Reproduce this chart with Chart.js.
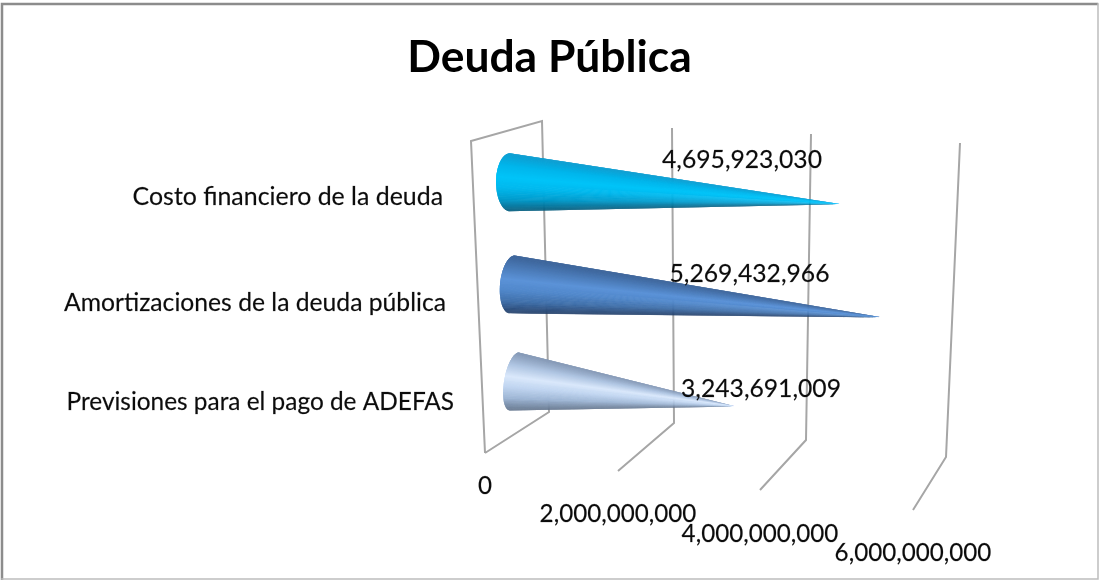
<!DOCTYPE html>
<html><head><meta charset="utf-8">
<style>html,body{margin:0;padding:0;background:#fff}#w{width:1099px;height:580px;position:relative}</style>
<script src="https://cdn.jsdelivr.net/npm/chart.js@4"></script>
</head><body><div id="w"><canvas id="c"></canvas></div>
<script>
const categories = ["Costo financiero de la deuda", "Amortizaciones de la deuda pública", "Previsiones para el pago de ADEFAS"];
const values = [4695923030, 5269432966, 3243691009];
const tickValues = [0, 2000000000, 4000000000, 6000000000];
const barColors = ["#00b0e6", "#4f81bd", "#b9cde5"];

// Cross-cone shading (top edge to bottom edge) per category
const shades = [
  ["#0f9dd0","#00b6ec","#00c4f8","#00b9ee","#009ccd","#045c7d"],
  ["#3d6499","#4c7cb9","#5c93d8","#5188cb","#4070aa","#213d67"],
  ["#8498b5","#afc5e2","#dae8fb","#c0d5f0","#9db5d4","#62748c"]
];
const FONT = "Lato";
const fmt = v => Number(v).toLocaleString("en-US");

// Fake-3D projection offsets relative to the library's scales
const coneDy = [0, 2, -1], tipDy = [22, 33, 25], tipDx = [3, 4, -1], coneR = 29;
const baseDx = [0, 2.5, 4.5], baseSkew = [0, -2.5, -4.5], baseRx = [14, 12.5, 10.5];
const catLabelEnd = [443, 446, 454], catLabelY = [197, 303, 402];
const catFontSize = [24.9, 24.7, 24.4];
const valLabelDx = [232, 239.5, 251], valLabelY = [160, 274, 389];
const gBackTop = [[32,121],[22,128],[21,134],[30,143]];
const gBackBot = [[39,412],[24,423],[16,440],[16,457]];
const gFront = [[-25,453],[-32,471],[-30,490],[-17,510]];
const tickLabelY = [486,514,534,553];

function lerpHex(a,b,t){
  const p=h=>[1,3,5].map(i=>parseInt(h.substr(i,2),16));
  const A=p(a),B=p(b);
  return "rgb("+A.map((x,i)=>Math.round(x+(B[i]-x)*t)).join(",")+")";
}
function shadeAt(s,t){
  const f=t*(s.length-1), i=Math.min(Math.floor(f),s.length-2);
  return lerpHex(s[i],s[i+1],f-i);
}
function text(ctx,s,x,y){
  ctx.fillText(s,x,y);
  ctx.strokeText(s,x,y);
}
const perspective = {
  id:"perspective",
  beforeDatasetDraw(chart,args){
    const ctx=chart.ctx, xs=chart.scales.x;
    ctx.save();
    // frame
    ctx.lineCap="square";
    ctx.strokeStyle="#8c8c8c"; ctx.lineWidth=2.5;
    ctx.beginPath(); ctx.moveTo(2,579); ctx.lineTo(2,4); ctx.lineTo(1097,4); ctx.stroke();
    ctx.strokeStyle="#bdbdbd"; ctx.lineWidth=1.5;
    ctx.beginPath(); ctx.moveTo(1098,4); ctx.lineTo(1098,579); ctx.lineTo(2,579); ctx.stroke();
    // gridlines
    ctx.strokeStyle="#a6a6a6"; ctx.lineWidth=2; ctx.lineCap="butt"; ctx.lineJoin="miter";
    xs.ticks.forEach((t,i)=>{
      const p=xs.getPixelForValue(t.value);
      ctx.beginPath();
      if(i===0){ ctx.moveTo(485,453); ctx.lineTo(471,141); ctx.lineTo(p+gBackTop[i][0],gBackTop[i][1]); }
      else ctx.moveTo(p+gBackTop[i][0],gBackTop[i][1]);
      ctx.lineTo(p+gBackBot[i][0],gBackBot[i][1]);
      ctx.lineTo(p+gFront[i][0],gFront[i][1]);
      ctx.stroke();
    });
    // cones from bar elements: fans converging on the tip, painted from both edges toward the middle
    const meta=chart.getDatasetMeta(args.index);
    meta.data.forEach((bar,i)=>{
      const cy=bar.y+coneDy[i], bx=bar.base+baseDx[i], tx=bar.x+tipDx[i], ty=cy+tipDy[i], n=120, mid=n/2;
      const ang=k=>-Math.PI/2+Math.PI*k/n;
      const pt=k=>{const a=ang(k);return [bx-baseRx[i]*Math.cos(a)+baseSkew[i]*Math.sin(a), cy+coneR*Math.sin(a)];};
      const slice=(k,to)=>{
        ctx.fillStyle=shadeAt(shades[i],(Math.sin(ang(k+.5))+1)/2);
        ctx.beginPath(); ctx.moveTo(tx,ty);
        const lo=Math.min(k,to), hi=Math.max(k,to);
        for(let j=lo;j<=hi;j++){const q=pt(j);ctx.lineTo(q[0],q[1]);}
        ctx.closePath(); ctx.fill();
      };
      for(let k=0;k<mid;k++) slice(k,Math.min(k+3,mid+1));
      for(let k=n-1;k>=mid;k--) slice(k,Math.max(k-2,mid-1));
    });
    ctx.restore();
    return false;
  },
  afterDatasetsDraw(chart){
    const ctx=chart.ctx, xs=chart.scales.x;
    ctx.save();
    ctx.fillStyle="#0c0c0c"; ctx.strokeStyle="rgba(12,12,12,.45)"; ctx.lineWidth=.35; ctx.textBaseline="middle";
    // category labels
    ctx.textAlign="right";
    categories.forEach((c,i)=>{ctx.font=catFontSize[i]+"px "+FONT; text(ctx,c,catLabelEnd[i],catLabelY[i]);});
    // tick labels
    ctx.font="24.2px "+FONT; ctx.textAlign="center";
    xs.ticks.forEach((t,i)=>{
      text(ctx,fmt(t.value), xs.getPixelForValue(t.value)+gFront[i][0], tickLabelY[i]);
    });
    // value labels
    ctx.font="24.7px "+FONT;
    chart.getDatasetMeta(0).data.forEach((bar,i)=>{
      text(ctx,fmt(values[i]), bar.base+valLabelDx[i], valLabelY[i]);
    });
    ctx.restore();
  }
};
new Chart(document.getElementById("c"),{
  type:"bar",
  data:{labels:categories,datasets:[{data:values,backgroundColor:barColors,barPercentage:.58,categoryPercentage:1}]},
  plugins:[perspective],
  options:{
    indexAxis:"y",responsive:true,maintainAspectRatio:false,animation:false,
    layout:{padding:0},
    plugins:{legend:{display:false},tooltip:{enabled:false},
      title:{display:true,text:"Deuda Pública",color:"#000",font:{family:FONT,size:44.4,weight:"bold"},padding:{top:31,bottom:48}}},
    scales:{
      x:{type:"linear",min:0,max:6000000000,ticks:{display:false,stepSize:2000000000},grid:{display:false},border:{display:false},afterFit(s){s.height=147.5}},
      y:{type:"category",ticks:{display:false},grid:{display:false},border:{display:false},afterFit(s){s.width=510}},
      y2:{type:"linear",position:"right",ticks:{display:false},grid:{display:false},border:{display:false},afterFit(s){s.width=169}}
    }
  }
});
</script></body></html>
